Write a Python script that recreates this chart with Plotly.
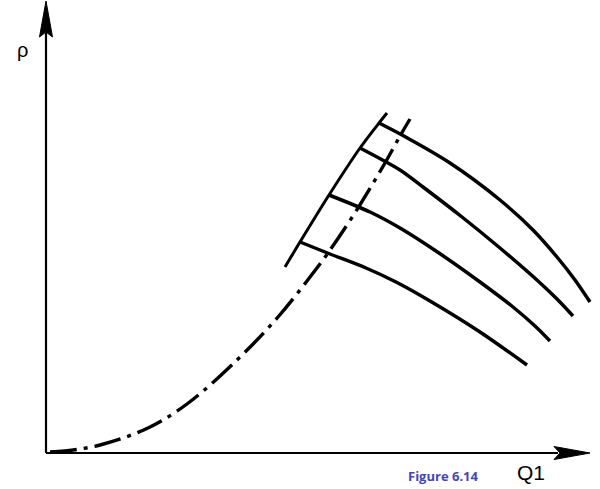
import plotly.graph_objects as go

# =========================================================
# DATA (units: px from the axis origin)
# =========================================================
operating_q = [4, 19, 54, 102, 141, 191, 232, 261, 282, 312, 339, 354, 364]
operating_p = [1, 2, 8, 25, 49, 93, 136, 172, 200, 245, 290, 317, 334]

envelope_q = [239, 254, 283, 314, 333, 341]
envelope_p = [186, 211, 258, 305, 330, 340]

curve1_q = [333, 356, 404, 454, 487, 511, 529, 544]
curve1_p = [330, 318, 290, 253, 223, 196, 173, 151]

curve2_q = [314, 354, 377, 416, 454, 492, 512, 527]
curve2_p = [305, 283, 266, 236, 205, 172, 153, 137]

curve3_q = [283, 324, 354, 390, 434, 467, 489, 504]
curve3_p = [258, 241, 225, 202, 171, 146, 127, 112]

curve4_q = [254, 284, 320, 350, 384, 434, 481]
curve4_p = [211, 199, 185, 171, 152, 121, 88]

x_label = "Q1"
y_label = "ρ"
caption = "Figure 6.14"

# axis extents
X_MAX = 544
Y_MAX = 452
HEAD_LEN = 36
HEAD_HALF = 6.5

fig = go.Figure()

for q, p in [(curve1_q, curve1_p), (curve2_q, curve2_p),
             (curve3_q, curve3_p), (curve4_q, curve4_p)]:
    fig.add_trace(go.Scatter(
        x=q, y=p, mode="lines",
        line=dict(color="black", width=3.5, shape="spline", smoothing=0.8),
        hoverinfo="skip", showlegend=False
    ))

fig.add_trace(go.Scatter(
    x=envelope_q, y=envelope_p, mode="lines",
    line=dict(color="black", width=3, shape="spline", smoothing=0.8),
    hoverinfo="skip", showlegend=False
))

fig.add_trace(go.Scatter(
    x=operating_q, y=operating_p, mode="lines",
    line=dict(color="black", width=3.4, shape="spline",
              dash="27px,7px,4px,7px"),
    hoverinfo="skip", showlegend=False
))

# axes with arrowheads
shapes = [
    dict(type="line", x0=0, y0=0, x1=X_MAX - HEAD_LEN + 4, y1=0,
         line=dict(color="black", width=2.2)),
    dict(type="line", x0=0, y0=0, x1=0, y1=Y_MAX - HEAD_LEN + 4,
         line=dict(color="black", width=2.2)),
    dict(type="path",
         path=f"M {X_MAX},0 L {X_MAX - HEAD_LEN},{HEAD_HALF} "
              f"L {X_MAX - HEAD_LEN + 6},0 L {X_MAX - HEAD_LEN},{-HEAD_HALF} Z",
         fillcolor="black", line=dict(color="black", width=1)),
    dict(type="path",
         path=f"M 0,{Y_MAX} L {HEAD_HALF},{Y_MAX - HEAD_LEN} "
              f"L 0,{Y_MAX - HEAD_LEN + 5} L {-HEAD_HALF},{Y_MAX - HEAD_LEN} Z",
         fillcolor="black", line=dict(color="black", width=1)),
]

annotations = [
    dict(x=-24, y=403, text=y_label, showarrow=False,
         font=dict(family="Liberation Sans", size=20, color="black")),
    dict(x=485, y=-19, text=x_label, showarrow=False,
         font=dict(family="Liberation Sans", size=21, color="black")),
    dict(x=397, y=-23, text=f"<b>{caption}</b>", showarrow=False,
         font=dict(family="Open Sans", size=13, color="#4343C8")),
]

fig.update_layout(
    width=600, height=489,
    margin=dict(l=0, r=0, t=0, b=0),
    paper_bgcolor="white",
    plot_bgcolor="white",
    xaxis=dict(range=[-46, 554], visible=False, fixedrange=True),
    yaxis=dict(range=[-36, 453], visible=False, fixedrange=True),
    shapes=shapes,
    annotations=annotations,
    showlegend=False
)

# the page's default body margin would shift the figure by 8px
fig.write_html("out.html", config={"displayModeBar": False},
               post_script="document.body.style.margin='0';")
